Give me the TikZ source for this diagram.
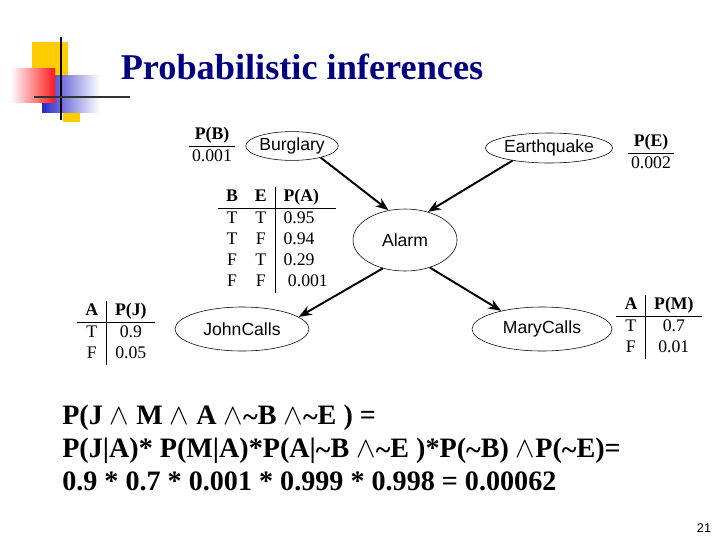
\documentclass[tikz,border=0pt]{standalone}
\usepackage{fontspec}
\setmainfont{Liberation Serif}
\setsansfont{Liberation Sans}
\usepackage{tikz}
\usetikzlibrary{arrows.meta,shapes.geometric}
\definecolor{titleblue}{HTML}{000080}
\definecolor{decoyellow}{HTML}{FFCC00}
\definecolor{decored}{HTML}{FF1A1A}
\definecolor{decoblue}{HTML}{2828C8}
\newcommand{\cptsize}{\fontsize{12.6}{15}\selectfont}
\newcommand{\nt}{\raisebox{-0.15ex}{\textasciitilde}}

\begin{document}
\begin{tikzpicture}[x=0.025cm,y=-0.025cm,>=Stealth,
  var/.style={ellipse,draw,thin,inner sep=0pt,font=\sffamily\fontsize{12.5}{14}\selectfont},
  cpt/.style={inner sep=0pt,font=\cptsize},
  link/.style={->,line width=1.4pt}]
\useasboundingbox (0,0) rectangle (720,540);
% slide ornament
\fill[decoyellow] (32,42) rectangle (68,80);
\fill[decoyellow] (63,112) rectangle (80,122);
\shade[left color=decoblue,right color=white] (42,75) rectangle (100,112);
\shade[left color=white,right color=decored] (10,68) rectangle (55,102);
\draw[line width=2pt] (61,37) -- (61,120);
\draw[line width=2pt,black!80] (34,97) -- (130,97);
\node[font=\fontsize{25.8}{30}\selectfont\bfseries,text=titleblue] (title) at (302,67) {Probabilistic inferences};
% network
\node[var,minimum width=2.25cm,minimum height=0.72cm] (burglary) at (292,146) {Burglary};
\node[var,minimum width=2.85cm,minimum height=0.75cm] (earthquake) at (549,148) {Earthquake};
\node[var,minimum width=2.6cm,minimum height=1.55cm] (alarm) at (405,240) {Alarm};
\node[var,minimum width=3.35cm,minimum height=1.1cm] (johncalls) at (242,329) {JohnCalls};
\node[var,minimum width=3.5cm,minimum height=1.1cm] (marycalls) at (542,329) {MaryCalls};
\draw[link] (burglary.338) -- (alarm.119);
\draw[link] (earthquake.199) -- (alarm.51);
\draw[link] (alarm.232) -- (johncalls.12);
\draw[link] (alarm.312) -- (marycalls.156);
% tables
\node[cpt] (priorB) at (212,146) {\begin{tabular}{@{\,}c@{\,}}\textbf{P(B)}\\\hline 0.001\end{tabular}};
\node[cpt] (priorE) at (651,153) {\begin{tabular}{@{\,}c@{\,}}\textbf{P(E)}\\\hline 0.002\end{tabular}};
\node[cpt] (cptA) at (277,240) {\begin{tabular}{cc|l}
  \textbf{B} & \textbf{E} & \textbf{P(A)}\\\hline
  T & T & 0.95\\ T & F & 0.94\\ F & T & 0.29\\ F & F & \ 0.001\end{tabular}};
\node[cpt] (cptJ) at (116,333) {\begin{tabular}{c|c}
  \textbf{A} & \textbf{P(J)}\\\hline T & 0.9\\ F & 0.05\end{tabular}};
\node[cpt] (cptM) at (659,327) {\begin{tabular}{c|c}
  \textbf{A} & \textbf{P(M)}\\\hline T & 0.7\\ F & 0.01\end{tabular}};
% the joint probability
\node[anchor=north west,align=left,inner sep=0pt,font=\bfseries\fontsize{20}{23.4}\selectfont] (joint) at (62,405)
  {P(J $\wedge$ M $\wedge$ A $\wedge$\nt B $\wedge$\nt E ) =\\
   P(J|A)* P(M|A)*P(A|\nt B $\wedge$\nt E )*P(\nt B) $\wedge$P(\nt E)=\\
   0.9 * 0.7 * 0.001 * 0.999 * 0.998 = 0.00062};
\node[font=\sffamily\fontsize{9}{10}\selectfont] (pagenum) at (704,528) {21};
\end{tikzpicture}
\end{document}
